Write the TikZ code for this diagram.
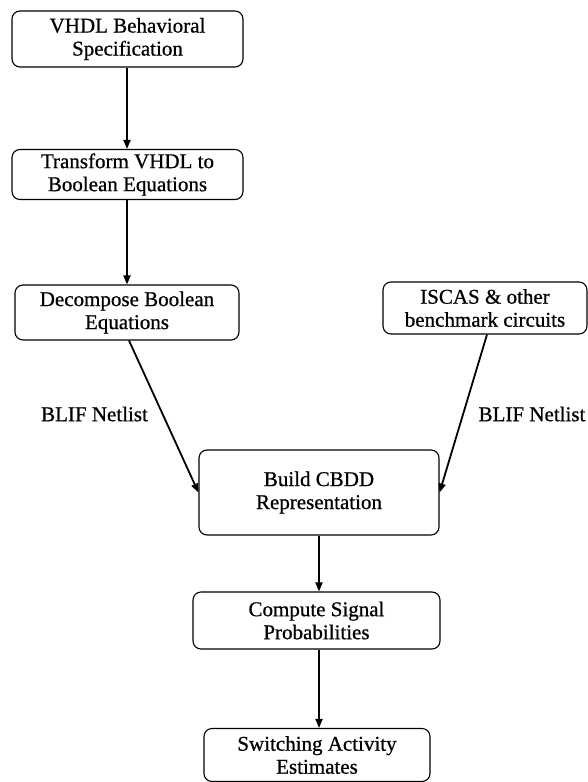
\documentclass[tikz,border=0pt]{standalone}
\usepackage{fontspec}
\setmainfont{Liberation Serif}
\newfontfamily\scanfont[FakeBold=0.7]{Liberation Serif}
\usetikzlibrary{arrows.meta}
\begin{document}
\begin{tikzpicture}[x=1pt,y=-1pt,
  box/.style={draw, line width=1.1pt, rounded corners=8pt, align=center,
    inner sep=0pt, font=\scanfont\fontsize{21}{23}\selectfont},
  arr/.style={line width=1.8pt, -{Triangle[length=9pt,width=7pt]}},
  lbl/.style={font=\scanfont\fontsize{21}{23}\selectfont, inner sep=0pt}]
\useasboundingbox (0,0) rectangle (588,782);
\node[box, minimum width=231pt, minimum height=56pt] (vhdl) at (127.5,39) {VHDL Behavioral\\Specification};
\node[box, minimum width=231pt, minimum height=50pt] (trans) at (127.5,174.5) {Transform VHDL to\\Boolean Equations};
\node[box, minimum width=224pt, minimum height=55pt] (decomp) at (127,312.5) {Decompose Boolean\\Equations};
\node[box, minimum width=204pt, minimum height=52pt] (iscas) at (485,308) {ISCAS \& other\\benchmark circuits};
\node[box, minimum width=240pt, minimum height=85pt] (build) at (319,492.5) {Build CBDD\\Representation};
\node[box, minimum width=247pt, minimum height=57pt] (comp) at (316.5,620.5) {Compute Signal\\Probabilities};
\node[box, minimum width=226pt, minimum height=53pt] (sw) at (317,755) {Switching Activity\\Estimates};
\node[lbl] (l1) at (94.5,414) {BLIF Netlist};
\node[lbl] (l2) at (532,414) {BLIF Netlist};
\draw[arr] (vhdl.south -| 127,0) -- (trans.north -| 127,0);
\draw[arr] (trans.south -| 127,0) -- (decomp.north -| 127,0);
\draw[arr] (decomp.south -| 129,0) -- (build.west);
\draw[arr] (iscas.south -| 487,0) -- (build.east);
\draw[arr] (build.south -| 319,0) -- (comp.north -| 319,0);
\draw[arr] (comp.south -| 319,0) -- (sw.north -| 319,0);
\end{tikzpicture}
\end{document}
